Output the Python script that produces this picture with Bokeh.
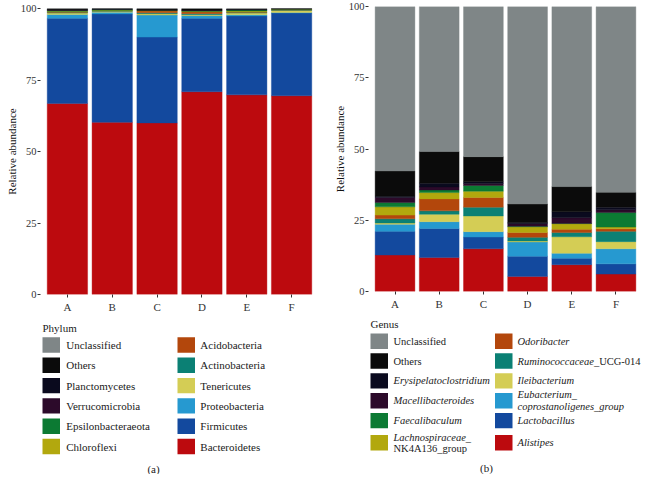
from bokeh.plotting import figure
from bokeh.models import Range1d, FixedTicker, ColumnDataSource
from bokeh.layouts import row, column
from bokeh.embed import file_html
from bokeh.resources import INLINE
from bokeh.core.properties import value

FONT = "'Liberation Serif', serif"

# ---------------- data ----------------
samples = ["A", "B", "C", "D", "E", "F"]

# Phylum (bottom -> top of stack)
phyla = ["Bacteroidetes", "Firmicutes", "Proteobacteria", "Tenericutes", "Actinobacteria",
         "Acidobacteria", "Chloroflexi", "Epsilonbacteraeota", "Verrucomicrobia",
         "Planctomycetes", "Others", "Unclassified"]
bacteroidetes = [66.8, 60.2, 60.0, 70.9, 69.8, 69.5]
firmicutes = [29.8, 37.9, 30.0, 25.7, 27.6, 28.9]
proteobacteria = [1.3, 0.6, 7.7, 0.9, 0.4, 0.2]
tenericutes = [0.5, 0.3, 0.5, 0.3, 0.6, 0.7]
actinobacteria = [0.3, 0.2, 0.3, 0.4, 0.3, 0.2]
acidobacteria = [0.1, 0.05, 0.6, 0.6, 0.1, 0.05]
chloroflexi = [0.2, 0.1, 0.2, 0.2, 0.3, 0.2]
epsilonbacteraeota = [0.3, 0.4, 0.1, 0.2, 0.4, 0.1]
verrucomicrobia = [0.2, 0.05, 0.1, 0.2, 0.1, 0.05]
planctomycetes = [0.1, 0.05, 0.1, 0.1, 0.1, 0.05]
others_phylum = [0.4, 0.15, 0.4, 0.5, 0.2, 0.05]
unclassified_phylum = [0.0, 0.0, 0.0, 0.0, 0.1, 0.0]
phylum_values = [bacteroidetes, firmicutes, proteobacteria, tenericutes, actinobacteria,
                 acidobacteria, chloroflexi, epsilonbacteraeota, verrucomicrobia,
                 planctomycetes, others_phylum, unclassified_phylum]

# Genus (bottom -> top of stack)
genera = ["Alistipes", "Lactobacillus", "Eubacterium_coprostanoligenes_group", "Ileibacterium",
          "Ruminococcaceae_UCG-014", "Odoribacter", "Lachnospiraceae_NK4A136_group",
          "Faecalibaculum", "Macellibacteroides", "Erysipelatoclostridium", "Others",
          "Unclassified"]
alistipes = [12.8, 11.9, 15.0, 5.3, 9.4, 6.1]
lactobacillus = [8.3, 10.2, 4.1, 7.1, 2.3, 3.6]
eubacterium = [2.5, 2.4, 1.9, 5.0, 1.7, 5.3]
ileibacterium = [0.4, 2.6, 5.5, 0.3, 5.8, 2.5]
ruminococcaceae = [1.5, 1.2, 3.1, 1.3, 1.5, 3.6]
odoribacter = [1.3, 4.2, 3.4, 1.7, 1.1, 0.9]
lachnospiraceae = [2.9, 2.2, 2.2, 2.0, 2.0, 0.6]
faecalibaculum = [1.5, 0.9, 2.0, 0.2, 0.1, 5.1]
macellibacteroides = [1.8, 1.1, 0.7, 0.9, 2.0, 1.0]
erysipelatoclostridium = [0.4, 1.3, 0.6, 0.4, 2.1, 0.9]
others_genus = [8.9, 11.1, 8.8, 6.5, 8.8, 5.2]
unclassified_genus = [57.7, 50.9, 52.7, 69.3, 63.2, 65.2]
genus_values = [alistipes, lactobacillus, eubacterium, ileibacterium, ruminococcaceae,
                odoribacter, lachnospiraceae, faecalibaculum, macellibacteroides,
                erysipelatoclostridium, others_genus, unclassified_genus]

palette = ["#BC0A0E", "#13499E", "#2699D0", "#D4CD55", "#0B8074", "#B3470C",
           "#B2A80E", "#0C7A33", "#2C0A2A", "#0A0A1E", "#0B0B0B", "#7F8687"]

y_ticks = [0, 25, 50, 75, 100]

x_pos = [i + 1 for i in range(len(samples))]


def make_bars(W, H, values, b_left, b_right, b_top, b_bottom):
    p = figure(width=W, height=H, x_range=Range1d(0.4, len(samples) + 0.6),
               y_range=Range1d(0, 100), output_backend="svg", toolbar_location=None,
               tools="", min_border_left=b_left, min_border_right=b_right,
               min_border_top=b_top, min_border_bottom=b_bottom)
    data = {"x": x_pos}
    keys = []
    for i, vals in enumerate(values):
        k = "s%d" % i
        data[k] = vals
        keys.append(k)
    src = ColumnDataSource(data)
    p.vbar_stack(keys, x="x", width=0.9, source=src, fill_color=palette,
                 line_color=palette, line_width=0.4)
    p.xgrid.visible = False
    p.ygrid.visible = False
    p.outline_line_color = None
    p.background_fill_color = "white"
    p.border_fill_color = "white"

    p.xaxis.ticker = FixedTicker(ticks=x_pos)
    p.xaxis.major_label_overrides = {x: s for x, s in zip(x_pos, samples)}
    p.yaxis.ticker = FixedTicker(ticks=y_ticks)
    for ax in (p.xaxis, p.yaxis):
        ax.axis_line_color = None
        ax.major_tick_out = 3
        ax.major_tick_in = 0
        ax.minor_tick_out = 0
        ax.minor_tick_in = 0
        ax.major_tick_line_color = "#333333"
        ax.major_label_text_font = FONT
        ax.major_label_text_font_size = "10.5px"
        ax.major_label_text_color = "#333333"
        ax.major_label_standoff = 1
    p.xaxis.major_label_standoff = 3
    p.xaxis.major_label_text_font_size = "11px"
    p.yaxis.axis_label = "Relative abundance"
    p.yaxis.axis_label_text_font = FONT
    p.yaxis.axis_label_text_font_size = "11px"
    p.yaxis.axis_label_text_font_style = "normal"
    p.yaxis.axis_label_text_color = "#111111"
    p.yaxis.axis_label_standoff = 0
    return p


IT_W = dict(zip("abcdefghijklmnopqrstuvwxyz",
                [500, 500, 444, 500, 444, 278, 500, 500, 278, 278, 444, 278, 722,
                 500, 500, 500, 500, 389, 389, 278, 500, 444, 667, 444, 444, 389]))
IT_W.update({"R": 611, "_": 500, "E": 611, "L": 556})


def it_width(s, size):
    return sum(IT_W.get(c, 500) for c in s) / 1000.0 * size


def make_legend(W, H, b_left, b_right, title, names, colors, label_lines, rows_y,
                col_sw, col_tx, title_xy, caption, caption_xy, size):
    # x data units == figure pixels (frame is aligned with the bar plot frame above)
    p = figure(width=W, height=H, x_range=Range1d(b_left, W - b_right),
               y_range=Range1d(H, 0), output_backend="svg", toolbar_location=None,
               tools="", min_border_left=b_left, min_border_right=b_right,
               min_border_top=0, min_border_bottom=0,
               x_axis_type=None, y_axis_type=None)
    p.outline_line_color = None
    p.background_fill_color = "white"
    p.border_fill_color = "white"
    left, right, top, bottom, fills = [], [], [], [], []
    tx, ty, tt, ts = [], [], [], []
    for i, (nm, colr) in enumerate(zip(names, colors)):
        r = i % 6
        c = i // 6
        yc = rows_y[r]
        left.append(col_sw[c])
        right.append(col_sw[c] + 17.5)
        top.append(yc - 7.7)
        bottom.append(yc + 7.7)
        fills.append(colr)
        lines = label_lines(nm)
        n = len(lines)
        for li, segs in enumerate(lines):
            yy = yc + (li - (n - 1) / 2.0) * 11.5
            xx = col_tx[c]
            for text, style in segs:
                tx.append(xx)
                ty.append(yy)
                tt.append(text)
                ts.append(style)
                xx += it_width(text, size)
    p.quad(left=left, right=right, top=top, bottom=bottom, fill_color=fills,
           line_color=None)
    p.text(x=tx, y=ty, text=tt, text_font_style=ts, text_font=value(FONT),
           text_font_size="%gpx" % size, text_baseline="middle", text_align="left",
           text_color="#1a1a1a")
    p.text(x=[title_xy[0]], y=[title_xy[1]], text=[title], text_font=value(FONT),
           text_font_size="11px", text_baseline="middle", text_align="left",
           text_color="#1a1a1a")
    p.text(x=[caption_xy[0]], y=[caption_xy[1]], text=[caption], text_font=value(FONT),
           text_font_size="11px", text_baseline="middle", text_align="center",
           text_color="#1a1a1a")
    return p


def phylum_lines(nm):
    return [[(nm, "normal")]]


special = {
    "Eubacterium_coprostanoligenes_group": [[("Eubacterium_", "italic")],
                                            [("coprostanoligenes_group", "italic")]],
    "Ruminococcaceae_UCG-014": [[("Ruminococcaceae", "italic"), ("_UCG-014", "normal")]],
    "Lachnospiraceae_NK4A136_group": [[("Lachnospiraceae_", "italic")],
                                      [("NK4A136_group", "normal")]],
    "Others": [[("Others", "normal")]],
    "Unclassified": [[("Unclassified", "normal")]],
}


def genus_lines(nm):
    return special.get(nm, [[(nm, "italic")]])


L1, R1, L2, R2 = 40, 4, 46, 0
p1 = make_bars(322, 318, phylum_values, L1, R1, 8, 24)
p2 = make_bars(320, 316, genus_values, L2, R2, 6, 25)

leg1 = make_legend(322, 156, L1, R1, "Phylum", phyla[::-1], palette[::-1], phylum_lines,
                   [26.5, 46.8, 67.1, 87.4, 107.7, 128], [42, 177], [65.7, 199.8],
                   (42, 9), "(a)", (153, 150.5), 11)
leg2 = make_legend(320, 158, L2, R2, "Genus", genera[::-1], palette[::-1], genus_lines,
                   [24.7, 44.5, 64.4, 84.2, 104.1, 126.3], [48, 172.5], [71, 195],
                   (48, 7.3), "(b)", (164, 151.5), 10.5)

layout = row(column(p1, leg1), column(p2, leg2))

open("out.html", "w").write(file_html(layout, INLINE))
